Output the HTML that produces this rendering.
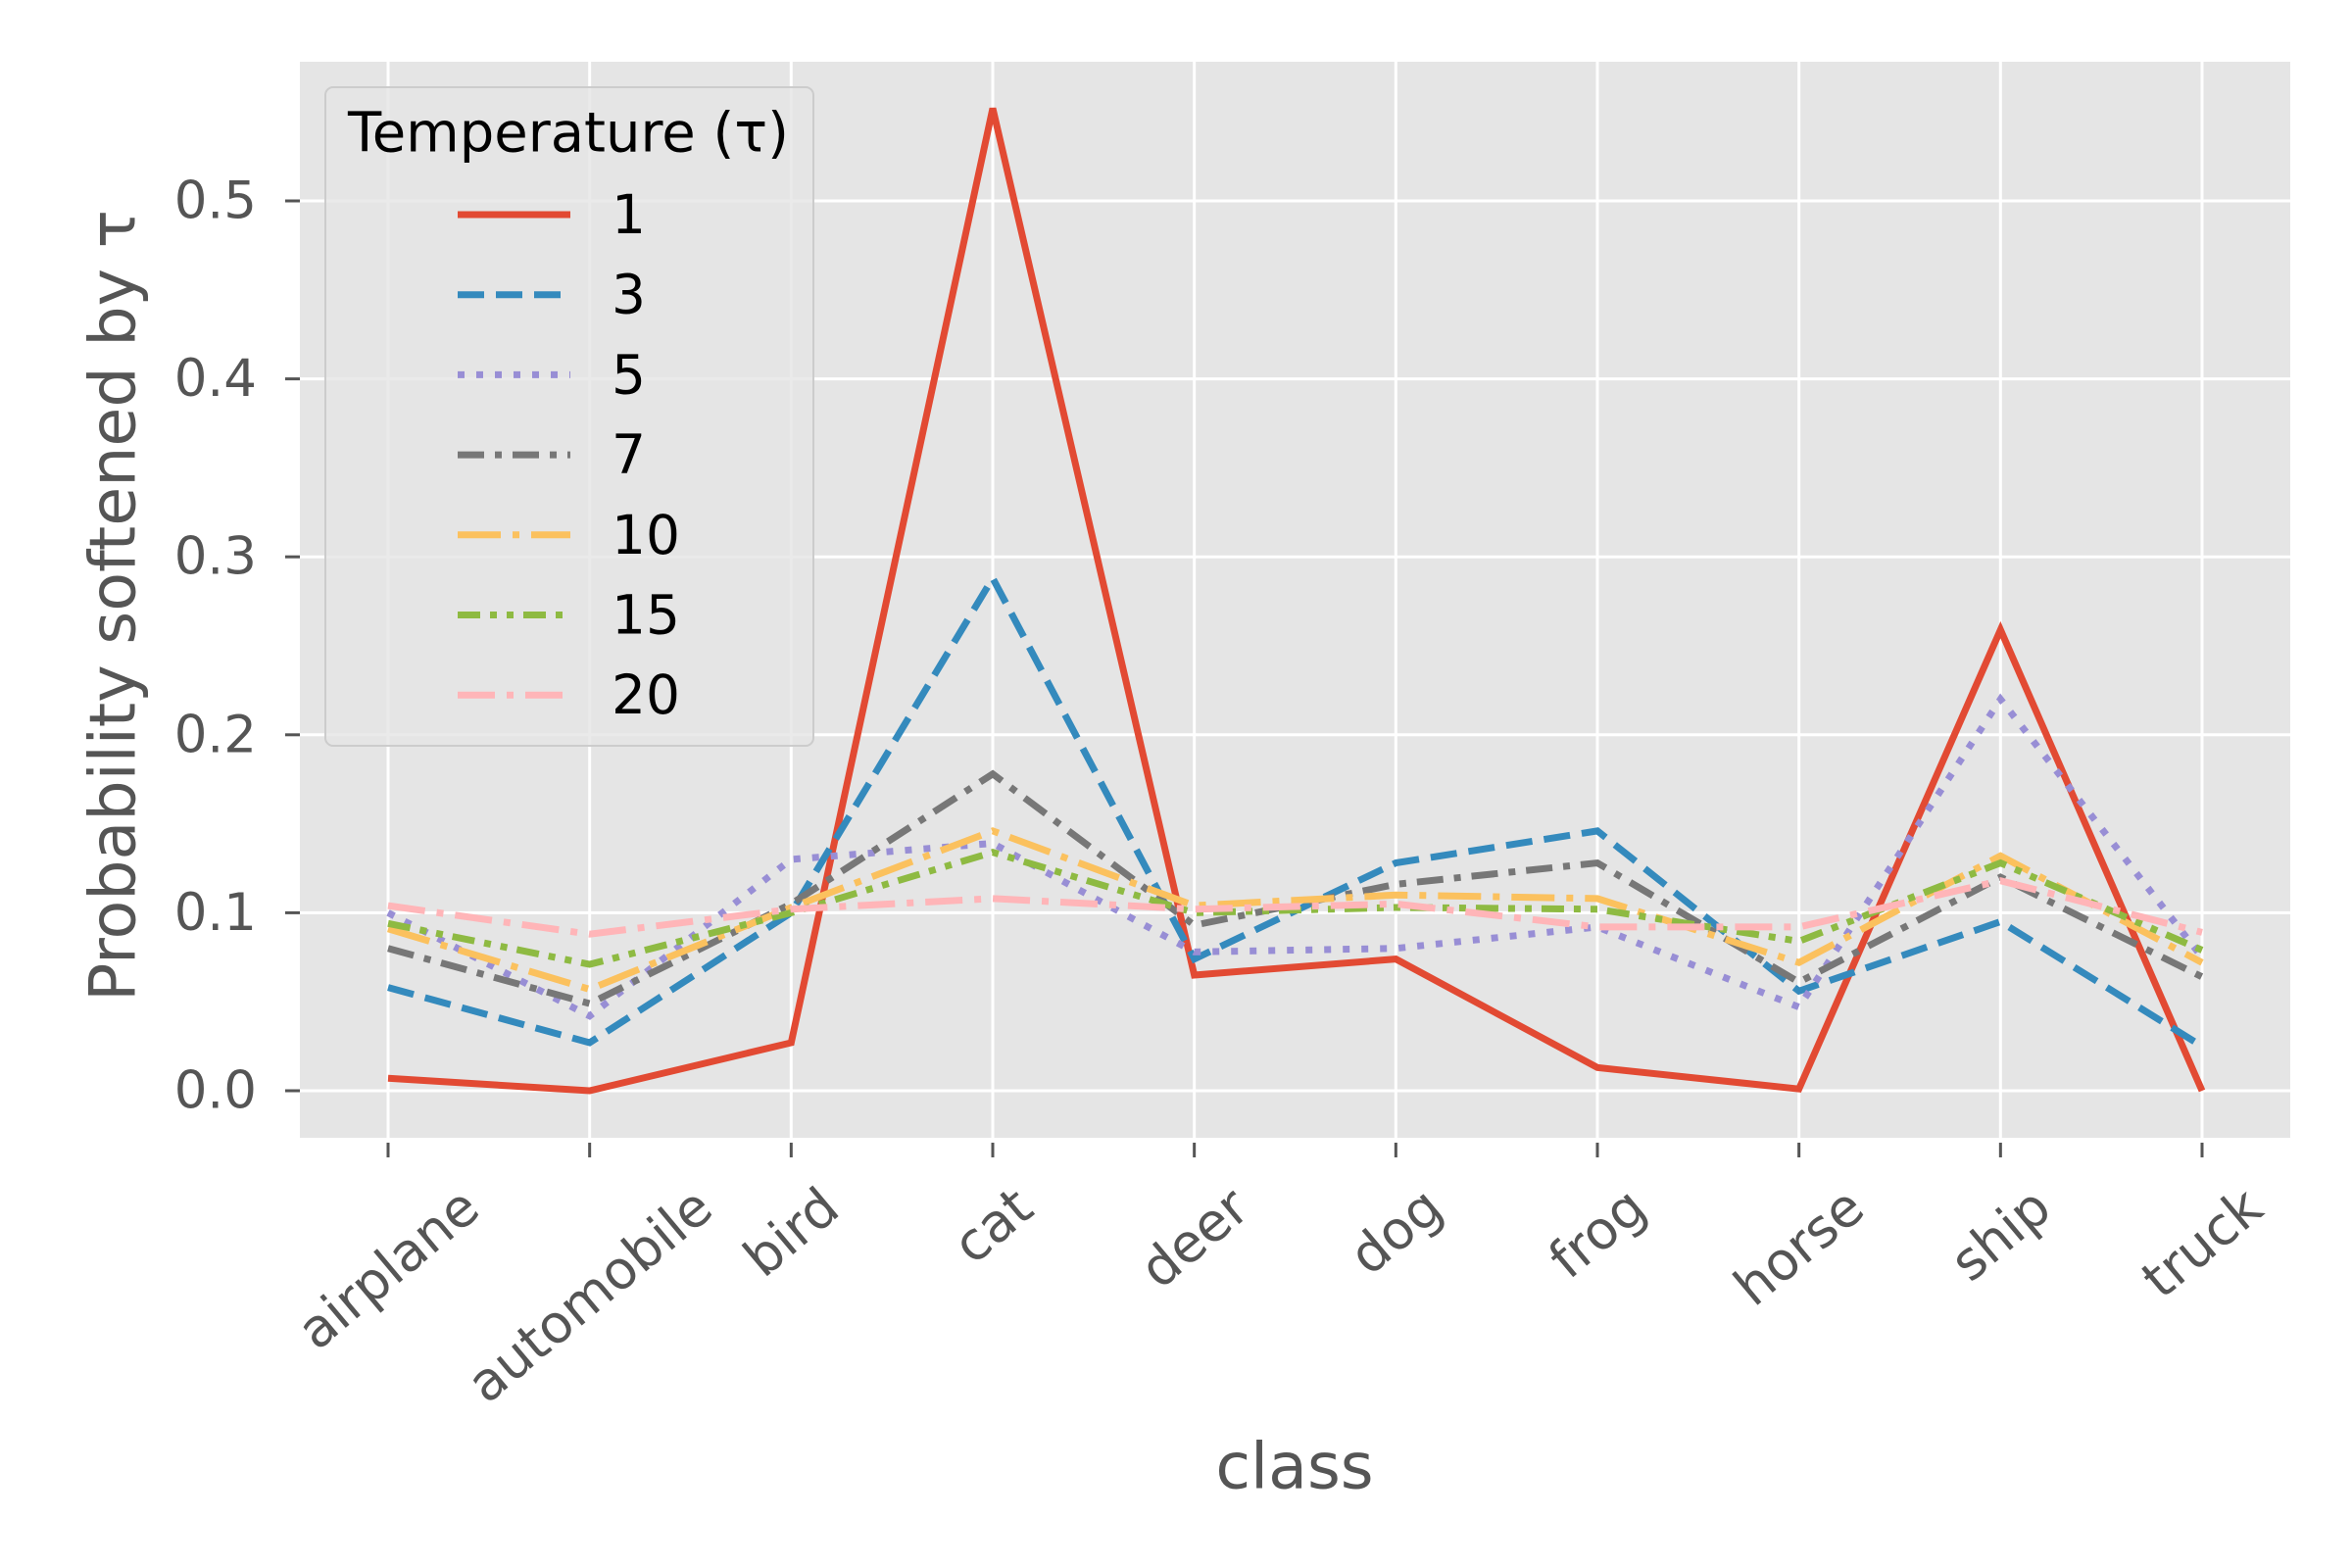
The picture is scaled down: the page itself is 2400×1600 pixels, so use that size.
<!DOCTYPE html>
<html><head><meta charset="utf-8"><style>
html,body{margin:0;padding:0;background:#fff}
svg{display:block;font-family:"DejaVu Sans","Liberation Sans",sans-serif}
</style></head><body>
<svg id="chart" width="2400" height="1600" viewBox="0 0 2400 1600" xmlns="http://www.w3.org/2000/svg">
<rect x="306" y="63" width="2031" height="1098" fill="#e5e5e5"/>
<g id="grid"></g><g id="series"></g><g id="axes"></g><g id="legend"></g>
<text x="116" y="618" font-size="65" fill="#555" text-anchor="middle" dominant-baseline="central" transform="rotate(-90 116 618)">Probability softened by τ</text>
<text x="1321" y="1497" font-size="65" fill="#555" text-anchor="middle" dominant-baseline="central">class</text>
</svg>
<script>
const categories=["airplane","automobile","bird","cat","deer","dog","frog","horse","ship","truck"];
const yTicks=[0.0,0.1,0.2,0.3,0.4,0.5];
const seriesNames=["1","3","5","7","10","15","20"];
const t1=[0.007,0.0,0.027,0.552,0.065,0.074,0.013,0.001,0.259,0.0];
const t3=[0.058,0.027,0.1,0.288,0.074,0.128,0.146,0.056,0.095,0.025];
const t5=[0.1,0.042,0.13,0.139,0.078,0.08,0.092,0.047,0.22,0.075];
const t7=[0.08,0.049,0.105,0.178,0.093,0.116,0.128,0.061,0.12,0.064];
const t10=[0.091,0.057,0.103,0.146,0.104,0.11,0.108,0.072,0.132,0.072];
const t15=[0.094,0.071,0.1,0.134,0.1,0.103,0.102,0.084,0.128,0.079];
const t20=[0.104,0.088,0.102,0.108,0.102,0.105,0.092,0.092,0.118,0.089];
const seriesValues=[t1,t3,t5,t7,t10,t15,t20];
const colors=["#E24A33","#348ABD","#988ED5","#777777","#FBC15E","#8EBA42","#FFB5B8"];
const dashes=["","27,12","7,12","27,11,7,11","44,12,7,12","23,10,7,10,7,10","38,12,7,12"];
const NS="http://www.w3.org/2000/svg";
const X0=306,X1=2337,Y0=63,Y1=1161;
const xs=i=>396+i*(2247-396)/(categories.length-1);
const ys=v=>1113-v*(1113-205)/0.5;
function mk(tag,attrs,parent){const e=document.createElementNS(NS,tag);for(const k in attrs)e.setAttribute(k,attrs[k]);parent.appendChild(e);return e;}
const grid=document.getElementById('grid'),axes=document.getElementById('axes');
yTicks.forEach(t=>{
 const l=mk('line',{x1:X0,x2:X1,y1:ys(t),y2:ys(t),stroke:'#fff','stroke-width':3},grid);
 
 
 const tk=mk('line',{x1:X0-15,x2:X0,y1:ys(t),y2:ys(t),stroke:'#555','stroke-width':3},axes);
 
 
 const tx=mk('text',{x:262,y:ys(t),'font-size':53,fill:'#555','text-anchor':'end','dominant-baseline':'central'},axes);
 tx.textContent=t.toFixed(1);
 
 
});
categories.forEach((c,i)=>{
 const x=xs(i);
 const l=mk('line',{x1:x,x2:x,y1:Y0,y2:Y1,stroke:'#fff','stroke-width':3},grid);
 
 
 const tk=mk('line',{x1:x,x2:x,y1:Y1+5,y2:Y1+20,stroke:'#555','stroke-width':3},axes);
 
 
 const tx=mk('text',{x:x,y:0,'font-size':54,fill:'#555','text-anchor':'middle','dominant-baseline':'central'},axes);
 tx.textContent=c;
 
 
 const w=tx.getComputedTextLength(),h=54;
 const cy=1203+(w*Math.sin(40*Math.PI/180)+h*Math.cos(40*Math.PI/180))/2;
 tx.setAttribute('y',cy);
 tx.setAttribute('transform','rotate(-40 '+x+' '+cy+')');
});
const sg=document.getElementById('series');
seriesValues.forEach((vals,s)=>{
 const pts=vals.map((v,i)=>xs(i)+','+ys(v)).join(' ');
 const p=mk('polyline',{points:pts,fill:'none',stroke:colors[s],'stroke-width':7,'stroke-linejoin':'miter'},sg);
 if(dashes[s])p.setAttribute('stroke-dasharray',dashes[s]);
 
 
});
const lg=document.getElementById('legend');
const box=mk('rect',{x:332,y:89,width:498,height:672,rx:8,fill:'#e5e5e5','fill-opacity':0.8,stroke:'#ccc','stroke-width':2},lg);


const tt=mk('text',{x:355,y:136,'font-size':56,fill:'#000','dominant-baseline':'central'},lg);
tt.textContent='Temperature (τ)';


seriesNames.forEach((n,s)=>{
 const y=219+s*81.7;
 const l=mk('line',{x1:467,x2:582,y1:y,y2:y,stroke:colors[s],'stroke-width':7},lg);
 if(dashes[s])l.setAttribute('stroke-dasharray',dashes[s]);
 
 
 const t=mk('text',{x:624,y:y,'font-size':55,fill:'#000','dominant-baseline':'central'},lg);
 t.textContent=n;
 
 
});
</script>
</body></html>
